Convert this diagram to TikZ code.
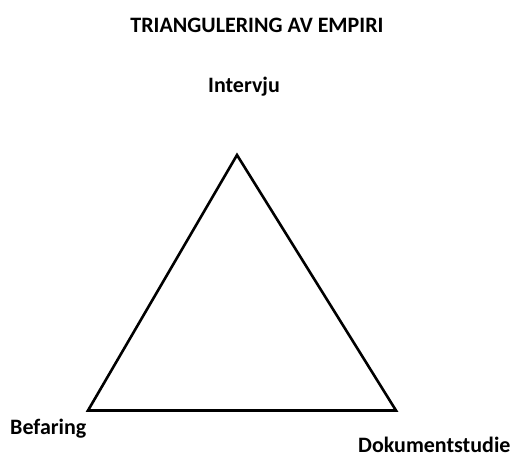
\documentclass[tikz,border=0pt]{standalone}
\usepackage{fontspec}
\setmainfont{Carlito}
\newcommand{\LW}{2.6pt}

\begin{document}
\begin{tikzpicture}[
    x=1pt, y=-1pt,
    side/.style={draw=black, line width=\LW, line join=miter},
    lbl/.style={font=\fontsize{22}{26}\selectfont\bfseries, inner sep=0pt},
  ]
  \useasboundingbox (0,0) rectangle (515,465);

  % corners of the triangle
  \coordinate (top)   at (237,155);
  \coordinate (left)  at (88,410.5);
  \coordinate (right) at (396,410.5);

  \draw[side] (top) -- (left) -- (right) -- cycle;

  % texts
  \node[lbl, anchor=base] (title) at (257,33)  {TRIANGULERING AV EMPIRI};
  \node[lbl, anchor=base] (intv)  at (244,93)  {Intervju};
  \node[lbl, anchor=base west] (bef) at (10,435) {Befaring};
  \node[lbl, anchor=base west] (dok) at (358,453) {Dokumentstudie};

\end{tikzpicture}
\end{document}
